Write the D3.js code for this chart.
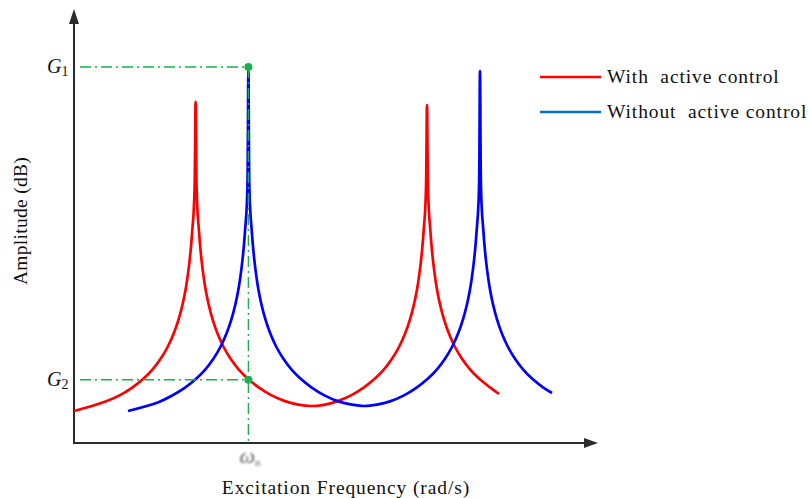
<!DOCTYPE html>
<html lang="en">
<head>
    <meta charset="utf-8" />
    <title>Amplitude vs excitation frequency</title>
    <style type="text/css">
        body{ margin:0; background:#fff; }
        text{ font-family:"Liberation Serif","Times New Roman",serif; fill:#111; }
    </style>
</head>
<body>
<script src="https://cdn.jsdelivr.net/npm/d3@7/dist/d3.min.js"></script>
<script>
    // excitation frequency and amplitude, arbitrary units (no ticks on the original)
    var withFreq = [0, 7.9, 11.4, 14.65, 17.4, 19.65, 21.65, 23.4, 24.9, 26.15, 27.15, 27.9, 28.4, 28.9, 29.275, 29.65, 29.9, 30.15,
        30.4,
        30.65, 30.9, 31.15, 31.525, 31.9, 32.4, 32.9, 33.65, 34.65, 35.9, 37.4, 39.15, 41.15, 43.4, 46.15, 49.4, 52.9,
        56.0, 59.25, 62.5,
        65.75, 69.25, 72.5, 75.25, 77.5, 79.5, 81.25, 82.75, 84.0, 85.0, 85.75, 86.25, 86.75, 87.125, 87.5, 87.75, 88.0,
        88.25,
        88.5, 88.75, 89.0, 89.375, 89.75, 90.25, 90.75, 91.5, 92.5, 93.75, 95.25, 97.0, 99.0, 101.25, 104.0, 106.25];
    var withAmp = [8.0, 10.4, 11.9, 13.9, 16.1, 18.4, 21.05, 24.0, 27.3, 30.9, 34.7, 38.4, 41.6, 45.6, 49.4, 54.25, 57.5, 63.75,
        85.3,
        63.75, 57.5, 54.25, 49.4, 45.6, 41.6, 38.4, 34.7, 30.9, 27.3, 24.0, 21.05, 18.4, 16.1, 13.9, 11.9, 10.4,
        9.6, 9.25, 9.55,
        10.4, 11.9, 13.9, 16.1, 18.4, 21.05, 24.0, 27.3, 30.9, 34.7, 38.4, 41.6, 45.6, 49.4, 54.25, 57.5, 63.75,
        84.5,
        63.75, 57.5, 54.25, 49.4, 45.6, 41.6, 38.4, 34.7, 30.9, 27.3, 24.0, 21.05, 18.4, 16.1, 13.9, 12.25];
    var withoutFreq = [13.5, 21.1, 24.6, 27.85, 30.6, 32.85, 34.85, 36.6, 38.1, 39.35, 40.35, 41.1, 41.6, 42.1, 42.475, 42.85, 43.1, 43.35,
        43.6,
        43.85, 44.1, 44.35, 44.725, 45.1, 45.6, 46.1, 46.85, 47.85, 49.1, 50.6, 52.35, 54.35, 56.6, 59.35, 62.6, 66.1,
        69.5, 72.5, 75.75,
        79.0, 82.5, 85.75, 88.5, 90.75, 92.75, 94.5, 96.0, 97.25, 98.25, 99.0, 99.5, 100.0, 100.375, 100.75, 101.0, 101.25,
        101.5,
        101.75, 102.0, 102.25, 102.625, 103.0, 103.5, 104.0, 104.75, 105.75, 107.0, 108.5, 110.25, 112.25, 114.5, 117.25, 119.5];
    var withoutAmp = [8.0, 10.2, 11.9, 13.9, 16.1, 18.4, 21.05, 24.0, 27.3, 30.9, 34.7, 38.4, 41.6, 45.6, 49.4, 54.25, 57.5, 63.75,
        93.0,
        63.75, 57.5, 54.25, 49.4, 45.6, 41.6, 38.4, 34.7, 30.9, 27.3, 24.0, 21.05, 18.4, 16.1, 13.9, 11.9, 10.4,
        9.6, 9.25, 9.6,
        10.4, 11.9, 13.9, 16.1, 18.4, 21.05, 24.0, 27.3, 30.9, 34.7, 38.4, 41.6, 45.6, 49.4, 54.25, 57.5, 63.75,
        93.0,
        63.75, 57.5, 54.25, 49.4, 45.6, 41.6, 38.4, 34.7, 30.9, 27.3, 24.0, 21.05, 18.4, 16.1, 13.9, 12.5];
    var seriesNames = ["With  active control", "Without  active control"];
    var seriesColors = ["#ff0000", "#0000ff"];
    var legendColors = ["#ff0000", "#0070c0"];
    var markFreq = 43.6;           // omega
    var markLevels = [94.0, 15.8]; // G1, G2
    var markNames = ["1", "2"];

    var width = 808, height = 498;
    var svg = d3.select("body").append("svg")
        .attr("width", width)
        .attr("height", height);

    var x = d3.scaleLinear().domain([0, 131]).range([74, 598]);
    var y = d3.scaleLinear().domain([0, 108]).range([443, 11]);

    var defs = svg.append("defs");
    defs.append("filter").attr("id", "blur")
        .append("feGaussianBlur").attr("stdDeviation", 0.9);

    // axes with arrows
    var axisColor = "#2b2b2b";
    svg.append("line")
        .attr("x1", x(0)).attr("y1", y(0))
        .attr("x2", x(131) - 8).attr("y2", y(0))
        .attr("stroke", axisColor).attr("stroke-width", 2);
    svg.append("path")
        .attr("d", "M" + x(131) + "," + y(0) + "l-14,-5l0,10z")
        .attr("fill", axisColor);
    svg.append("line")
        .attr("x1", x(0)).attr("y1", y(0) + 1)
        .attr("x2", x(0)).attr("y2", y(108) + 8)
        .attr("stroke", axisColor).attr("stroke-width", 2);
    svg.append("path")
        .attr("d", "M" + x(0) + "," + (y(108) - 2) + "l-5,15l10,0z")
        .attr("fill", axisColor);

    // curves
    var line = d3.line()
        .x(function(d){ return x(d[0]); })
        .y(function(d){ return y(d[1]); })
        .curve(d3.curveCatmullRom.alpha(0.5));

    var series = [d3.zip(withFreq, withAmp), d3.zip(withoutFreq, withoutAmp)];
    svg.append("g").selectAll("path")
        .data(series)
        .enter()
        .append("path")
        .attr("d", line)
        .attr("fill", "none")
        .attr("stroke", function(d, i){ return seriesColors[i]; })
        .attr("stroke-width", 2.7)
        .attr("stroke-linejoin", "round");

    // green dash-dot guides
    var green = "#1bb04f";
    var dash = "11,4,2,4";
    var guides = svg.append("g");
    markLevels.forEach(function(v){
        guides.append("line")
            .attr("x1", x(1.5)).attr("x2", x(markFreq))
            .attr("y1", y(v)).attr("y2", y(v))
            .attr("stroke", green).attr("stroke-width", 1.4)
            .attr("stroke-dasharray", dash);
    });
    guides.append("line")
        .attr("x1", x(markFreq)).attr("x2", x(markFreq))
        .attr("y1", y(markLevels[0])).attr("y2", y(0) + 2)
        .attr("stroke", green).attr("stroke-width", 1.4)
        .attr("stroke-dasharray", dash);
    guides.selectAll("circle")
        .data(markLevels)
        .enter()
        .append("circle")
        .attr("cx", x(markFreq))
        .attr("cy", function(d){ return y(d); })
        .attr("r", 4)
        .attr("fill", green);

    // G labels
    markLevels.forEach(function(v, i){
        var t = svg.append("text")
            .attr("x", x(0) - 27).attr("y", y(v) + 6)
            .attr("font-size", 20);
        t.append("tspan").attr("font-style", "italic").text("G");
        t.append("tspan").attr("font-size", 14).attr("dy", 3).text(markNames[i]);
    });

    // omega label (blurry in the original)
    var w = svg.append("text")
        .attr("x", x(markFreq) - 9).attr("y", y(0) + 20)
        .attr("font-size", 22)
        .attr("filter", "url(#blur)")
        .style("fill", "#666");
    w.append("tspan").attr("font-style", "italic").text("ω");
    w.append("tspan").attr("font-size", 11).attr("dy", 3).text("n");

    // axis titles
    svg.append("text")
        .attr("x", 346).attr("y", 494)
        .attr("text-anchor", "middle")
        .attr("font-size", 19.5)
        .attr("letter-spacing", 0.9)
        .text("Excitation Frequency (rad/s)");
    svg.append("text")
        .attr("transform", "translate(27,221) rotate(-90)")
        .attr("text-anchor", "middle")
        .attr("font-size", 19.5)
        .attr("letter-spacing", 0.3)
        .text("Amplitude (dB)");

    // legend
    var legend = svg.append("g").selectAll("g")
        .data(seriesNames)
        .enter()
        .append("g")
        .attr("transform", function(d, i){ return "translate(540," + (77 + i * 35) + ")"; });
    legend.append("line")
        .attr("x1", 0).attr("x2", 61)
        .attr("stroke", function(d, i){ return legendColors[i]; })
        .attr("stroke-width", 2.6);
    legend.append("text")
        .attr("x", 67).attr("y", 6)
        .attr("font-size", 19.5)
        .attr("letter-spacing", 0.9)
        .style("white-space", "pre")
        .text(function(d){ return d; });
</script>
</body>
</html>
